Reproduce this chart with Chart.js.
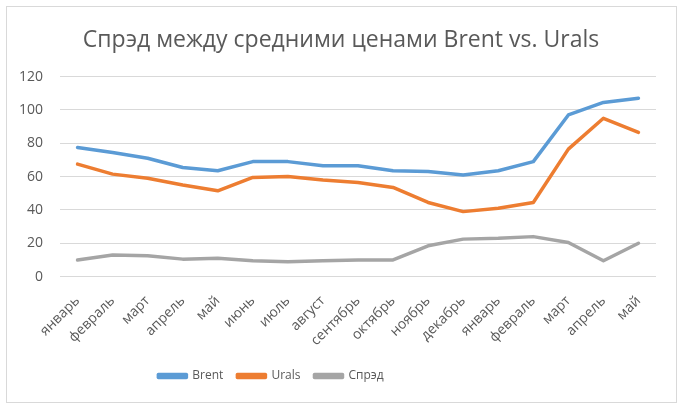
<!DOCTYPE html>
<html>
<head>
<meta charset="utf-8">
<script src="https://cdn.jsdelivr.net/npm/chart.js@4"></script>
<style>
  html, body { margin: 0; padding: 0; background: #fff; }
  #wrap { width: 683px; height: 410px; }
</style>
</head>
<body>
<div id="wrap"><canvas id="spreadChart"></canvas></div>
<script>
const months = ["январь", "февраль", "март", "апрель", "май", "июнь", "июль", "август",
  "сентябрь", "октябрь", "ноябрь", "декабрь", "январь", "февраль", "март", "апрель", "май"];
const brent = [77.5, 74.5, 71, 65.5, 63.5, 69, 69, 66.5, 66.5, 63.5, 63, 61, 63.5, 69, 97, 104.5, 107];
const urals = [67.5, 61.5, 59, 55, 51.5, 59.5, 60, 58, 56.5, 53.5, 44.5, 39, 41, 44.5, 76.5, 95, 86.5];
const spread = [10, 13, 12.5, 10.5, 11, 9.5, 9, 9.5, 10, 10, 18.5, 22.5, 23, 24, 20.5, 9.5, 20];

const textColor = "#595959";
const font = "'Open Sans', sans-serif";

// светло-серая рамка вокруг всей диаграммы, как в Excel
const frame = {
  id: "frame",
  beforeDraw(chart) {
    const ctx = chart.ctx;
    ctx.save();
    ctx.fillStyle = "#fff";
    ctx.fillRect(0, 0, chart.width, chart.height);
    ctx.strokeStyle = "#d9d9d9";
    ctx.lineWidth = 1;
    ctx.strokeRect(6.5, 6.5, 670, 396);
    ctx.restore();
  }
};

// заголовок центрирован по всей диаграмме, легенда смещена левее центра
const shiftBlocks = {
  id: "shiftBlocks",
  afterLayout(chart) {
    const tb = chart.titleBlock;
    tb.left += 12;
    tb.right += 12;
    const lg = chart.legend;
    lg.right -= 116;
    lg.top -= 1;
    lg.bottom -= 1;
  }
};

const line = (label, data, color) => ({
  label: label,
  data: data,
  borderColor: color,
  backgroundColor: color,
  borderWidth: 3.5,
  pointRadius: 0,
  tension: 0,
  borderJoinStyle: "round",
  borderCapStyle: "round",
  fill: false
});

new Chart(document.getElementById("spreadChart"), {
  type: "line",
  data: {
    labels: months,
    datasets: [
      line("Brent", brent, "#5b9bd5"),
      line("Urals", urals, "#ed7d31"),
      line("Спрэд", spread, "#a5a5a5")
    ]
  },
  plugins: [frame, shiftBlocks],
  options: {
    responsive: true,
    maintainAspectRatio: false,
    animation: false,
    layout: { padding: { left: 2, right: 27, top: 0, bottom: 17 } },
    plugins: {
      title: {
        display: true,
        text: "Спрэд между средними ценами Brent vs. Urals",
        color: textColor,
        font: { family: font, size: 23, weight: "normal", lineHeight: 1.2 },
        padding: { top: 27, bottom: 22 }
      },
      legend: {
        position: "bottom",
        labels: {
          color: textColor,
          font: { family: font, size: 12 },
          boxWidth: 28,
          boxHeight: 3,
          padding: 14
        }
      },
      tooltip: { enabled: false }
    },
    scales: {
      x: {
        offset: true,
        grid: { display: false },
        border: { display: false },
        ticks: {
          color: textColor,
          font: { family: font, size: 14 },
          maxRotation: 45,
          minRotation: 45,
          padding: 8,
          autoSkip: false
        },
        // подписи могут выходить за левый край области построения
        afterFit(scale) {
          scale.paddingLeft = 0;
          scale.paddingRight = 0;
        }
      },
      y: {
        min: 0,
        max: 120,
        grid: { color: "#d9d9d9", drawTicks: false },
        border: { display: false },
        ticks: {
          stepSize: 20,
          color: textColor,
          font: { family: font, size: 14 },
          padding: 17
        }
      }
    }
  }
});
</script>
</body>
</html>
